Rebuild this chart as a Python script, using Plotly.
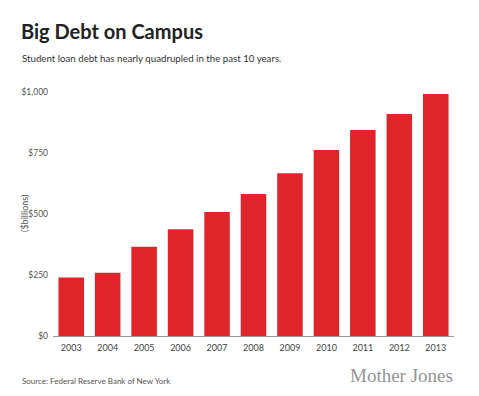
import plotly.graph_objects as go

years = ["2003", "2004", "2005", "2006", "2007", "2008", "2009", "2010", "2011", "2012", "2013"]
debt_billions = [240, 259, 366, 437, 508, 582, 667, 762, 844, 910, 992]
y_tick_values = [0, 250, 500, 750, 1000]
y_tick_labels = ["$0", "$250", "$500", "$750", "$1,000"]

OFF = 8  # page body margin
W, H = 479 - OFF, 396 - OFF
# plot area in reference coordinates
X0, X1, Y0, Y1 = 53, 454, 92, 336
L, R, T, B = X0 - OFF, 479 - X1, Y0 - OFF, 396 - Y1
plot_w = X1 - X0
plot_h = Y1 - Y0

def px(x):
    return (x - X0) / plot_w

def py(y):
    return (Y1 - y) / plot_h

fig = go.Figure(go.Bar(
    x=years, y=debt_billions,
    marker=dict(color="#E0252A", line=dict(width=0)),
    width=0.7,
))

fig.update_layout(
    width=W, height=H,
    margin=dict(l=L, r=R, t=T, b=B, autoexpand=False),
    paper_bgcolor="white", plot_bgcolor="white",
    showlegend=False,
    font=dict(family="Lato", color="#444"),
    xaxis=dict(
        type="category", range=[-0.5, 10.5], automargin=False,
        showgrid=False, showline=True, linecolor="#9a9a9a", linewidth=1,
        ticks="", tickfont=dict(size=9, color="#444", family="Lato"),
        ticklabelstandoff=3,
    ),
    yaxis=dict(
        range=[0, 1000], showgrid=False, zeroline=False, showline=False, automargin=False,
        tickvals=y_tick_values, ticktext=y_tick_labels,
        tickfont=dict(size=8.5, color="#555", family="Lato"),
        ticks="", ticklabelstandoff=4,
    ),
)

ann = [
    dict(text="<b>Big Debt on Campus</b>", x=px(19), y=py(31), xanchor="left", yanchor="middle",
         font=dict(size=20, color="#222", family="Lato")),
    dict(text="Student loan debt has nearly quadrupled in the past 10 years.", x=px(20), y=py(58),
         xanchor="left", yanchor="middle", font=dict(size=9.7, color="#333", family="Lato")),
    dict(text="($billions)", x=px(24), y=py(213), xanchor="center", yanchor="middle", textangle=-90,
         font=dict(size=9, color="#555", family="Lato")),
    dict(text="Source: Federal Reserve Bank of New York", x=px(20), y=py(381),
         xanchor="left", yanchor="middle", font=dict(size=8, color="#555", family="Lato")),
    dict(text="Mother Jones", x=px(455), y=py(375), xanchor="right", yanchor="middle",
         font=dict(size=19, color="#959595", family="Liberation Serif")),
]
for a in ann:
    a.update(xref="paper", yref="paper", showarrow=False)
fig.update_layout(annotations=ann)

fig.write_html("out.html")
